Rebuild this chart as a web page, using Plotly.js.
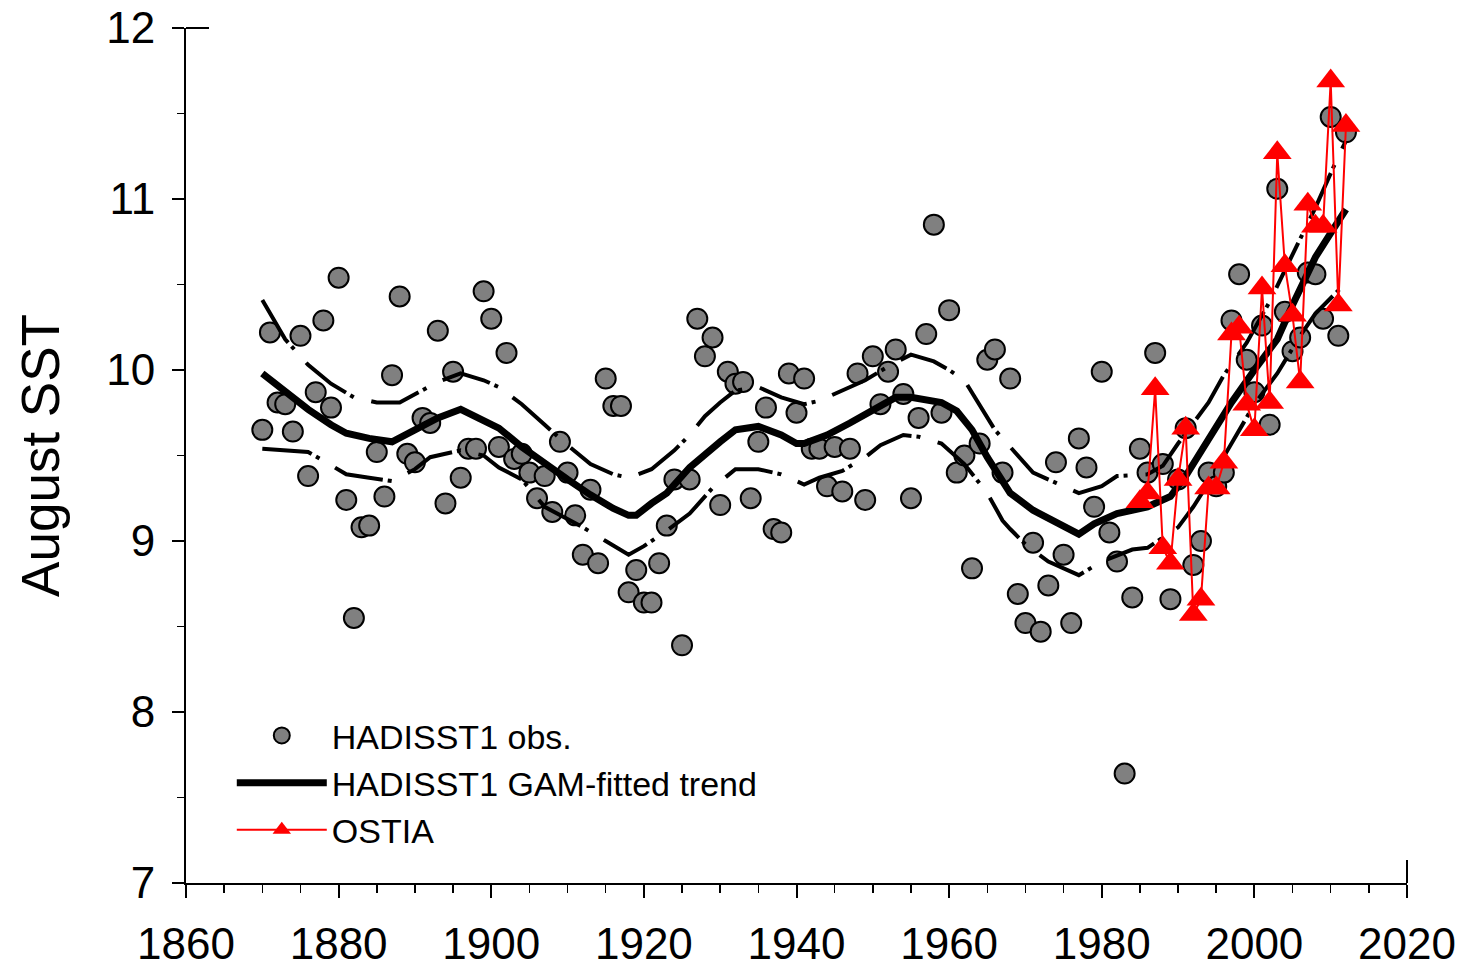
<!DOCTYPE html>
<html>
<head>
<meta charset="utf-8">
<script src="https://cdn.plot.ly/plotly-3.0.1.min.js"></script>
<style>html,body{margin:0;padding:0;background:#fff;}#chart{width:1466px;height:968px;}</style>
</head>
<body>
<div id="chart"></div>
<script>
// HadISST1 August SST observations, 1870-2012
const obsYears = [];
for (let y = 1870; y <= 2012; y++) obsYears.push(y);
const obsValues = [
  9.65,10.22,9.81,9.80,9.64,10.20,9.38,9.87,10.29,9.78,   // 1870-1879
  10.54,9.24,8.55,9.08,9.09,9.52,9.26,9.97,10.43,9.51,    // 1880-1889
  9.46,9.72,9.69,10.23,9.22,9.99,9.37,9.54,9.54,10.46,    // 1890-1899
  10.30,9.55,10.10,9.48,9.51,9.40,9.25,9.38,9.17,9.58,    // 1900-1909
  9.40,9.15,8.92,9.30,8.87,9.95,9.79,9.79,8.70,8.83,      // 1910-1919
  8.64,8.64,8.87,9.09,9.36,8.39,9.36,10.30,10.08,10.19,   // 1920-1929
  9.21,9.99,9.92,9.93,9.25,9.58,9.78,9.07,9.05,9.98,      // 1930-1939
  9.75,9.95,9.54,9.54,9.32,9.55,9.29,9.54,9.98,9.24,      // 1940-1949
  10.08,9.80,9.99,10.12,9.86,9.25,9.72,10.21,10.85,9.75,  // 1950-1959
  10.35,9.40,9.50,8.84,9.57,10.06,10.12,9.40,9.95,8.69,   // 1960-1969
  8.52,8.99,8.47,8.74,9.46,8.92,8.52,9.60,9.43,9.20,      // 1970-1979
  9.99,9.05,8.88,7.64,8.67,9.54,9.40,10.10,9.45,8.66,     // 1980-1989
  9.36,9.66,8.86,9.00,9.40,9.32,9.40,10.29,10.56,10.06,   // 1990-1999
  9.87,10.26,9.68,11.06,10.34,10.11,10.19,10.57,10.56,10.30, // 2000-2009
  11.48,10.20,11.39                                        // 2010-2012
];

// GAM-fitted trend and its confidence band
const trendYears = [1870,1873,1876,1879,1881,1884,1887,1890,1893,1896,1899,1901,1904,1907,1910,1913,1916,1918,1919,1921,1923,1926,1928,1930,1932,1935,1938,1940,1941,1944,1947,1950,1953,1955,1957,1959,1961,1963,1965,1967,1968,1971,1974,1977,1979,1982,1986,1989,1991,1994,1997,2000,2003,2005,2008,2010,2012];
const trendValues = [9.98,9.87,9.77,9.68,9.63,9.60,9.58,9.65,9.72,9.77,9.71,9.66,9.55,9.45,9.36,9.27,9.19,9.15,9.15,9.22,9.28,9.43,9.51,9.58,9.65,9.67,9.62,9.57,9.57,9.62,9.69,9.76,9.84,9.84,9.83,9.81,9.76,9.65,9.49,9.34,9.28,9.18,9.11,9.04,9.10,9.16,9.20,9.26,9.38,9.59,9.81,10.00,10.18,10.38,10.66,10.80,10.94];

const upperYears = [1870,1873,1876,1879,1882,1885,1888,1890,1893,1896,1899,1901,1904,1907,1910,1913,1916,1918,1921,1924,1926,1928,1930,1932,1935,1938,1941,1943,1946,1949,1952,1955,1958,1960,1962,1964,1966,1968,1971,1974,1977,1980,1982,1986,1988,1990,1994,1996,1999,2002,2005,2008,2011,2012];
const upperValues = [10.41,10.18,10.03,9.92,9.84,9.81,9.81,9.86,9.93,9.98,9.94,9.90,9.80,9.68,9.56,9.45,9.39,9.37,9.42,9.53,9.62,9.73,9.81,9.88,9.90,9.84,9.80,9.82,9.88,9.94,10.02,10.09,10.05,10.00,9.94,9.79,9.65,9.55,9.40,9.34,9.28,9.32,9.38,9.39,9.44,9.57,9.81,9.97,10.16,10.40,10.68,10.95,11.25,11.34];

const lowerYears = [1870,1873,1876,1878,1881,1884,1887,1890,1892,1896,1899,1901,1904,1907,1910,1912,1915,1918,1920,1923,1926,1929,1932,1935,1938,1941,1943,1946,1949,1951,1954,1956,1959,1962,1965,1967,1968,1970,1973,1977,1980,1984,1986,1990,1992,1994,1997,2000,2003,2006,2008,2012];
const lowerValues = [9.54,9.53,9.52,9.47,9.39,9.37,9.35,9.42,9.49,9.53,9.50,9.43,9.36,9.20,9.13,9.08,9.00,8.92,8.97,9.06,9.16,9.31,9.42,9.42,9.39,9.33,9.37,9.41,9.49,9.56,9.62,9.61,9.57,9.45,9.28,9.12,9.07,8.98,8.88,8.80,8.88,8.95,8.96,9.08,9.20,9.34,9.57,9.80,9.98,10.20,10.33,10.51];

// OSTIA August SST, 1985-2012
const ostiaYears = [];
for (let y = 1985; y <= 2012; y++) ostiaYears.push(y);
const ostiaValues = [9.23,9.28,9.89,8.96,8.87,9.36,9.66,8.57,8.66,9.31,9.31,9.46,10.21,10.25,9.80,9.65,10.48,9.81,11.27,10.61,10.32,9.93,10.97,10.84,10.84,11.69,10.38,11.43];

const xTicks = [1860,1880,1900,1920,1940,1960,1980,2000,2020];
const yTicks = [7,8,9,10,11,12];

const FONT = '"Liberation Sans", Arial, Helvetica, sans-serif';
const dashCI = '50px,5px,4px,18px';

const traces = [
  {
    x: obsYears, y: obsValues, type: 'scatter', mode: 'markers',
    name: 'HADISST1 obs.',
    marker: {symbol: 'circle', size: 20, color: '#808080', line: {color: '#000', width: 2}}
  },
  {
    x: trendYears, y: trendValues, type: 'scatter', mode: 'lines',
    name: 'HADISST1 GAM-fitted trend',
    line: {color: '#000', width: 7}
  },
  {
    x: upperYears, y: upperValues, type: 'scatter', mode: 'lines',
    name: 'upper', showlegend: false,
    line: {color: '#000', width: 4, dash: dashCI}
  },
  {
    x: lowerYears, y: lowerValues, type: 'scatter', mode: 'lines',
    name: 'lower', showlegend: false,
    line: {color: '#000', width: 4, dash: dashCI}
  },
  {
    x: ostiaYears, y: ostiaValues, type: 'scatter', mode: 'lines+markers',
    name: 'OSTIA',
    line: {color: '#ff0000', width: 2},
    marker: {symbol: 'triangle-up', size: 25, color: '#ff0000'}
  }
];

const layout = {
  width: 1466, height: 968,
  margin: {l: 186, r: 59, t: 28, b: 85, pad: 0},
  paper_bgcolor: '#fff', plot_bgcolor: '#fff',
  font: {family: FONT, color: '#000'},
  showlegend: true,
  legend: {
    x: 0.0375, y: 0.206, xanchor: 'left', yanchor: 'top',
    bgcolor: 'rgba(0,0,0,0)', borderwidth: 0,
    font: {family: FONT, size: 34, color: '#000'},
    itemwidth: 90, traceorder: 'normal'
  },
  xaxis: {
    range: [1860, 2020], tickmode: 'array', tickvals: xTicks,
    ticks: 'outside', ticklen: 13, tickwidth: 2, tickcolor: '#000',
    minor: {dtick: 5, tick0: 1860, ticks: 'outside', ticklen: 8, tickwidth: 1.5, tickcolor: '#000', showgrid: false},
    showline: true, linewidth: 2, linecolor: '#000',
    showgrid: false, zeroline: false,
    tickfont: {family: FONT, size: 44, color: '#000'},
    ticklabelstandoff: 8
  },
  yaxis: {
    range: [7, 12], tickmode: 'array', tickvals: yTicks,
    ticks: 'outside', ticklen: 12, tickwidth: 2, tickcolor: '#000',
    minor: {dtick: 0.5, tick0: 7, ticks: 'outside', ticklen: 7, tickwidth: 1.5, tickcolor: '#000', showgrid: false},
    showline: true, linewidth: 2, linecolor: '#000',
    showgrid: false, zeroline: false,
    tickfont: {family: FONT, size: 44, color: '#000'},
    ticklabelstandoff: 8,
    title: {text: 'August SST', font: {family: FONT, size: 53, color: '#000'}, standoff: 30}
  },
  shapes: [
    // end caps of the axes (inward tick at 2020 and at 12)
    {type: 'line', xref: 'paper', yref: 'paper', ysizemode: 'pixel', yanchor: 0,
     x0: 1, x1: 1, y0: 0, y1: 23, line: {color: '#000', width: 2}},
    {type: 'line', xref: 'paper', yref: 'paper', xsizemode: 'pixel', xanchor: 0,
     x0: 0, x1: 23, y0: 1, y1: 1, line: {color: '#000', width: 2}}
  ]
};

Plotly.newPlot('chart', traces, layout, {displayModeBar: false, staticPlot: true});
</script>
</body>
</html>
